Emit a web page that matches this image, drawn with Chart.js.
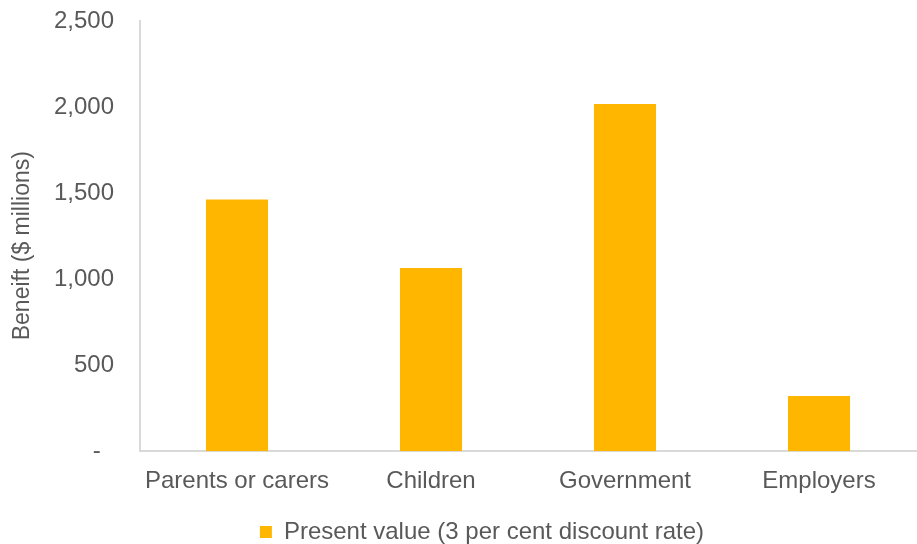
<!DOCTYPE html>
<html>
<head>
<meta charset="utf-8">
<script src="https://cdn.jsdelivr.net/npm/chart.js@4/dist/chart.umd.min.js"></script>
<style>
html,body{margin:0;padding:0;background:#fff;}
#wrap{width:917px;height:544px;position:relative;}
</style>
</head>
<body>
<div id="wrap"><canvas id="c" width="917" height="544"></canvas></div>
<script>
const categories = ['Parents or carers', 'Children', 'Government', 'Employers'];
const presentValue = [1463, 1065, 2017, 321];
const seriesLabel = 'Present value (3 per cent discount rate)';
const yTitle = 'Beneift ($ millions)';
const yMin = 0, yMax = 2500, yStep = 500;

const txt = '#595959';
const FONT = 'Liberation Sans, Arial, sans-serif';

const legendShift = {
  id: 'legendShift',
  afterLayout(chart) {
    if (chart.legend) { chart.legend.left += 48; }
  }
};

new Chart(document.getElementById('c'), {
  type: 'bar',
  data: {
    labels: categories,
    datasets: [{
      label: seriesLabel,
      data: presentValue,
      backgroundColor: '#FFB600',
      borderWidth: 0,
      categoryPercentage: 1,
      barPercentage: 0.32
    }]
  },
  plugins: [legendShift],
  options: {
    responsive: false,
    animation: false,
    devicePixelRatio: 1,
    layout: { padding: { top: 21, right: 1, left: 0, bottom: -10 } },
    plugins: {
      legend: {
        position: 'bottom',
        labels: { color: txt, font: { family: FONT, size: 24 }, boxWidth: 12, boxHeight: 12, padding: 8 }
      },
      tooltip: { enabled: false }
    },
    scales: {
      x: {
        grid: { display: false, drawTicks: false },
        border: { color: '#d9d9d9', width: 2 },
        ticks: { color: txt, font: { family: FONT, size: 24 }, padding: 16, maxRotation: 0 }
      },
      y: {
        min: yMin, max: yMax,
        grid: { display: false, drawTicks: false },
        border: { color: '#d9d9d9', width: 2 },
        ticks: {
          stepSize: yStep,
          color: txt,
          font: { family: FONT, size: 24 },
          padding: 26,
          callback: v => v === 0 ? '-  ' : v.toLocaleString('en-US')
        },
        title: { display: true, text: yTitle + '   ', color: txt, font: { family: FONT, size: 23 }, padding: { top: 9, bottom: 0 } },
        afterFit: s => { s.width = 140; s.paddingTop = 0; s.paddingBottom = 0; }
      }
    }
  }
});
</script>
</body>
</html>
